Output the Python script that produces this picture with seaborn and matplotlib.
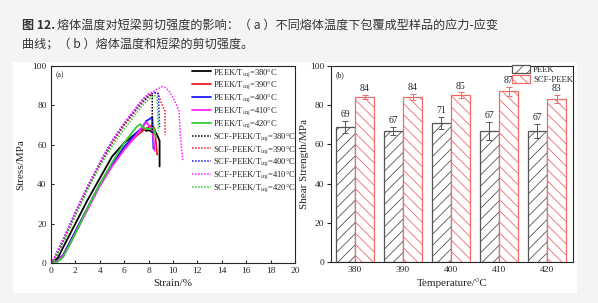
import matplotlib
matplotlib.use("Agg")
import matplotlib.pyplot as plt
from matplotlib.patches import Rectangle
import seaborn as sns
import pandas as pd

# ---- datos (a): curvas tensión-deformación ----
temps = ["380", "390", "400", "410", "420"]
colores = ["#000000", "#ee1c25", "#1a1aff", "#ff22ff", "#33cc33"]

peek_strain = [
    [0, 0.3, 0.6, 1.0, 1.5, 2, 3, 4, 5, 6, 7, 7.6, 7.8, 8.0, 8.3, 8.5, 8.7, 8.9, 8.9],
    [0, 0.5, 1.0, 1.5, 2, 3, 4, 5, 6, 7, 7.5, 8.0, 8.3, 8.5, 8.7],
    [0, 0.5, 1.0, 1.5, 2, 3, 4, 5, 6, 7, 7.5, 7.8, 8.3, 8.35, 8.4],
    [0, 0.5, 1.0, 1.5, 2, 3, 4, 5, 6, 7, 7.5, 7.8, 8.0, 8.3, 8.5],
    [0, 0.5, 1.0, 1.5, 2, 3, 4, 5, 6, 7, 7.3, 7.6, 8.0, 8.4, 8.6],
]
peek_stress = [
    [0, 1, 3, 8, 14, 20, 32, 43, 54, 61, 66, 68.5, 67, 67.5, 66.5, 67, 65, 62, 49],
    [0, 1, 4, 10, 16, 28, 40, 50, 58, 64.5, 67, 69, 70, 68, 55],
    [0, 1, 4, 10, 16, 28, 40, 50, 59, 66, 69, 72, 74, 66, 58],
    [0, 1, 3.5, 9, 15, 27, 39, 49, 57.5, 65, 69, 71.5, 70, 68, 57],
    [0, 0.5, 3, 9, 15, 28, 40, 51, 61, 69, 70.5, 68.5, 68, 68.5, 64],
]
scf_strain = [
    [0, 0.3, 0.6, 1.0, 1.5, 2, 3, 4, 5, 6, 7, 7.5, 8.0, 8.3, 8.3],
    [0, 0.3, 0.6, 1.0, 1.5, 2, 3, 4, 5, 6, 7, 7.5, 8.0, 8.5, 8.8, 9.0, 9.2, 9.35, 9.35],
    [0, 0.3, 0.6, 1.0, 1.5, 2, 3, 4, 5, 6, 7, 7.5, 8.0, 8.5, 8.8, 8.9],
    [0, 0.3, 0.6, 1.0, 1.5, 2, 3, 4, 5, 6, 7, 7.5, 8.0, 8.5, 9.1, 9.4, 9.7, 10.0, 10.3,
     10.5, 10.6, 10.7, 10.8],
    [0, 0.3, 0.6, 1.0, 1.5, 2, 3, 4, 5, 6, 7, 7.5, 8.0, 8.5, 8.7, 8.8],
]
scf_stress = [
    [0, 2, 6, 11, 18, 25, 38, 50, 61, 70, 78, 81.5, 84.5, 85.5, 66],
    [0, 2, 6, 11, 18, 25, 38, 50, 61, 70, 78, 82, 85, 86.5, 86, 82, 79, 77, 65],
    [0, 3, 7, 12, 19, 26, 39, 51, 62, 71, 79, 83, 85.5, 86.5, 86, 69],
    [0, 3, 7, 12, 19, 26, 39, 51, 62, 71, 79, 83, 86, 87.5, 89.5, 89, 87, 84, 80,
     77, 65, 58, 52],
    [0, 1.5, 5, 10, 17, 24, 37, 49, 59, 68, 76, 80, 83, 85, 84.5, 67],
]

# ---- datos (b): resistencia al corte ----
temp_cat = ["380", "390", "400", "410", "420"]
peek_shear = [69, 67, 71, 67, 67]
scf_shear = [84, 84, 85, 87, 83]
peek_err = [3, 2, 3, 4.5, 3.5]
scf_err = [1, 1.5, 1.5, 2.5, 2]

sns.set_style("ticks")
plt.rcParams["font.family"] = ["Liberation Serif", "DejaVu Sans"]
plt.rcParams["mathtext.fontset"] = "stix"
plt.rcParams["hatch.linewidth"] = 0.6

fig = plt.figure(figsize=(5.98, 3.03), dpi=100, facecolor="#f4f4f4")
fig.add_artist(Rectangle((13 / 598, 1 - 293 / 303), 564 / 598, 231 / 303,
                         transform=fig.transFigure, facecolor="white",
                         edgecolor="none", zorder=0))

# Título
fig.text(22 / 598, 1 - 25 / 303, "图 12.", family=["Noto Sans CJK SC", "DejaVu Sans"],
         fontsize=8.7, fontweight="bold", color="#333333", va="center")
fig.text(57 / 598, 1 - 25 / 303,
         "熔体温度对短梁剪切强度的影响：（ a ）不同熔体温度下包覆成型样品的应力-应变",
         family=["Noto Sans CJK SC", "DejaVu Sans"], fontsize=8.7, color="#333333", va="center")
fig.text(22 / 598, 1 - 45 / 303, "曲线；（ b ）熔体温度和短梁的剪切强度。",
         family=["Noto Sans CJK SC", "DejaVu Sans"], fontsize=8.7, color="#333333", va="center")

# ---- (a) ----
ax1 = fig.add_axes([51 / 598, 40 / 303, 244 / 598, 197 / 303])
for t, c, x, y in zip(temps, colores, peek_strain, peek_stress):
    sns.lineplot(x=x, y=y, ax=ax1, color=c, lw=1.3, sort=False, estimator=None,
                 label="PEEK/T$_{\\rm inj}$=" + t + "°C")
for t, c, x, y in zip(temps, colores, scf_strain, scf_stress):
    sns.lineplot(x=x, y=y, ax=ax1, color=c, lw=1.1, sort=False, estimator=None,
                 linestyle=(0, (1, 1)), label="SCF-PEEK/T$_{\\rm inj}$=" + t + "°C")
ax1.set_xlim(0, 20)
ax1.set_ylim(0, 100)
ax1.set_xticks(range(0, 21, 2))
ax1.set_yticks(range(0, 101, 20))
ax1.tick_params(direction="in", length=2, labelsize=6.8, pad=3)
ax1.set_xlabel("Strain/%", fontsize=8, labelpad=3)
ax1.set_ylabel("Stress/MPa", fontsize=8, labelpad=5)
ax1.text(0.02, 0.975, "(a)", transform=ax1.transAxes, fontsize=5.5, va="top")
ax1.legend(loc="upper left", bbox_to_anchor=(0.575, 1.0), frameon=False, fontsize=6.2,
           handlelength=2.2, handletextpad=0.2, labelspacing=0.12, borderpad=0.1,
           borderaxespad=0)
for s in ax1.spines.values():
    s.set_linewidth(0.8)

# ---- (b) ----
ax2 = fig.add_axes([331 / 598, 41 / 303, 242 / 598, 196 / 303])
df = pd.DataFrame({
    "Temp": temp_cat * 2,
    "Shear": peek_shear + scf_shear,
    "Tipo": ["PEEK"] * 5 + ["SCF-PEEK"] * 5,
})
sns.barplot(data=df, x="Temp", y="Shear", hue="Tipo", ax=ax2, errorbar=None,
            palette=["white", "white"], width=0.8, legend=False, zorder=2)
bordes = ["#555555", "#f06a6a"]
hatches = ["///", "\\\\\\"]
errores = [peek_err, scf_err]
for cont, ec, h, err in zip(ax2.containers, bordes, hatches, errores):
    for bar, e in zip(cont, err):
        bar.set_edgecolor(ec)
        bar.set_hatch(h)
        bar.set_linewidth(0.9)
        cx = bar.get_x() + bar.get_width() / 2
        top = bar.get_height()
        ax2.errorbar(cx, top, yerr=e, color=ec, capsize=2, lw=0.7, capthick=0.7, zorder=3)
        ax2.text(cx, top + e + 1.0, f"{top:.0f}", ha="center", va="bottom", fontsize=7)
ax2.set_xlim(-0.5, 4.54)
ax2.set_ylim(0, 100)
ax2.set_yticks(range(0, 101, 20))
ax2.tick_params(axis="y", direction="out", length=3, labelsize=6.8, pad=2)
ax2.tick_params(axis="x", length=0, labelsize=6.8, pad=3)
ax2.set_xlabel("Temperature/°C", fontsize=8, labelpad=3)
ax2.set_ylabel("Shear Strength/MPa", fontsize=8, labelpad=0.5)
ax2.text(0.02, 0.975, "(b)", transform=ax2.transAxes, fontsize=5.5, va="top")
ax2.legend(handles=list(ax2.containers), labels=["PEEK", "SCF-PEEK"], loc="upper right",
           bbox_to_anchor=(1.0, 1.005), frameon=False, fontsize=6.2, handlelength=2.1,
           handleheight=1.1, handletextpad=0.3, labelspacing=0.05, borderpad=0,
           borderaxespad=0)
for s in ax2.spines.values():
    s.set_linewidth(0.8)

fig.savefig("out.png", dpi=100, facecolor=fig.get_facecolor())
